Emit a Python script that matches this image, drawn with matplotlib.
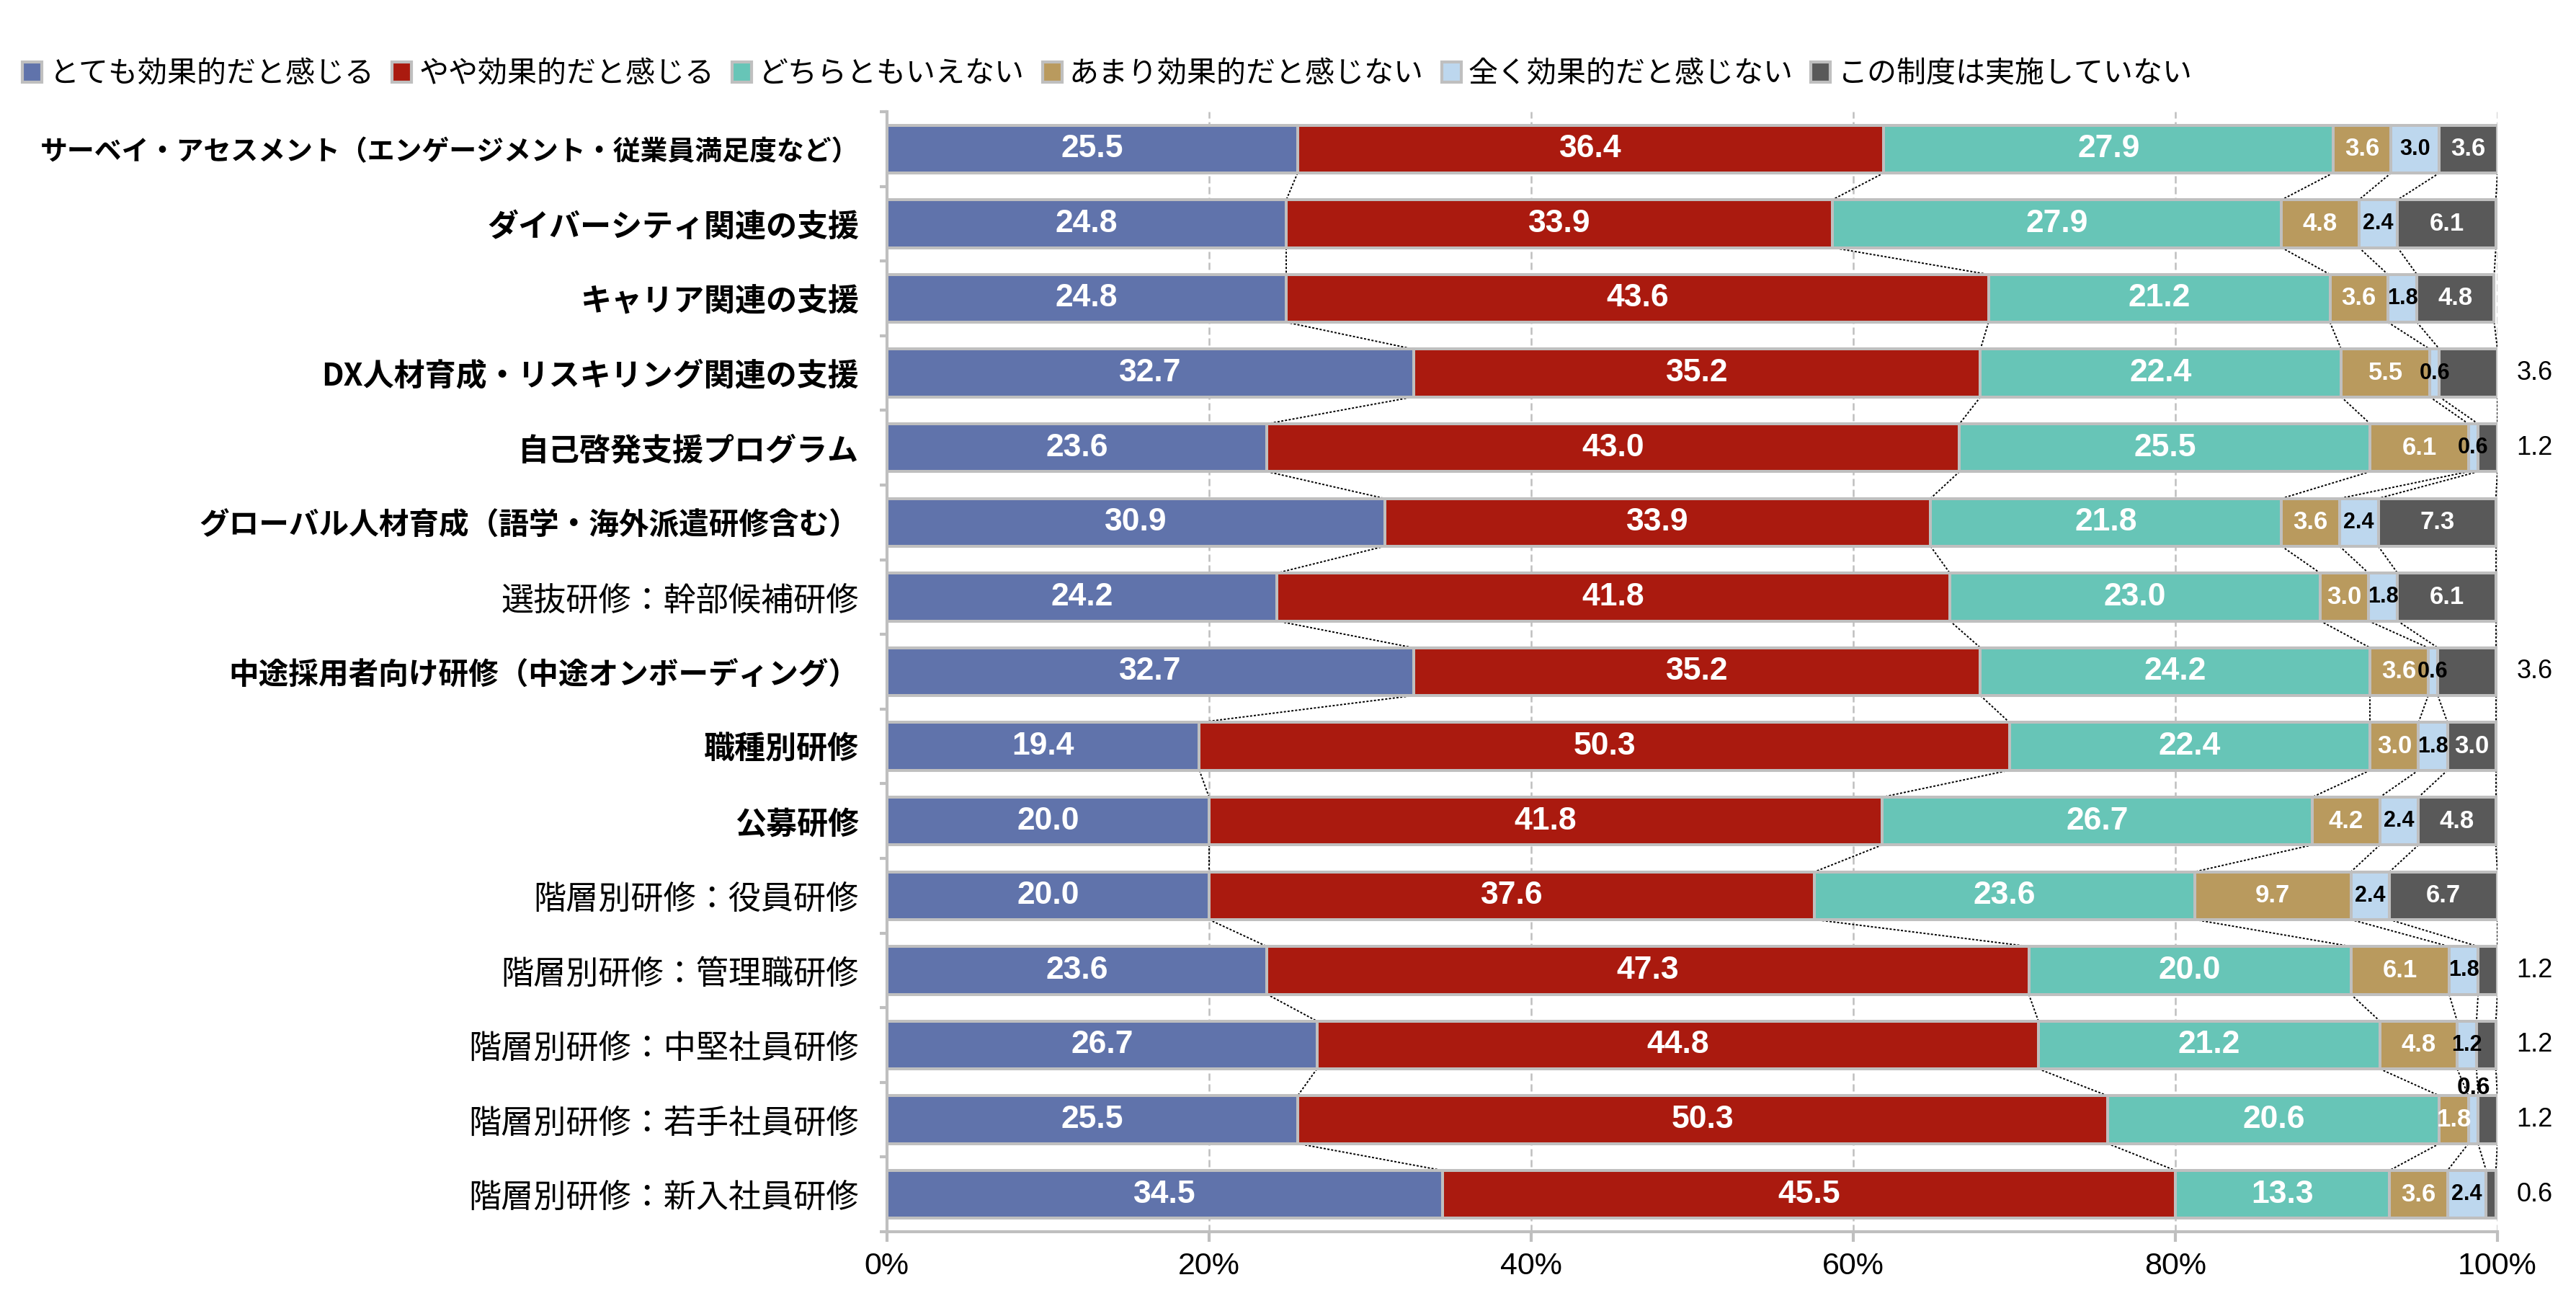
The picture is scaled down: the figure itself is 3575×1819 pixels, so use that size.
import matplotlib
matplotlib.use("Agg")
import matplotlib.pyplot as plt
from matplotlib.patches import Patch
import numpy as np

plt.rcParams['font.family'] = ['Noto Sans CJK JP', 'DejaVu Sans']

# data (percent)
categories = [
    "サーベイ・アセスメント（エンゲージメント・従業員満足度など）",
    "ダイバーシティ関連の支援",
    "キャリア関連の支援",
    "DX人材育成・リスキリング関連の支援",
    "自己啓発支援プログラム",
    "グローバル人材育成（語学・海外派遣研修含む）",
    "選抜研修：幹部候補研修",
    "中途採用者向け研修（中途オンボーディング）",
    "職種別研修",
    "公募研修",
    "階層別研修：役員研修",
    "階層別研修：管理職研修",
    "階層別研修：中堅社員研修",
    "階層別研修：若手社員研修",
    "階層別研修：新入社員研修",
]
bold_rows = [True] * 6 + [False] + [True] * 3 + [False] * 5

series_names = ["とても効果的だと感じる", "やや効果的だと感じる", "どちらともいえない",
                "あまり効果的だと感じない", "全く効果的だと感じない", "この制度は実施していない"]

very = [25.5, 24.8, 24.8, 32.7, 23.6, 30.9, 24.2, 32.7, 19.4, 20.0, 20.0, 23.6, 26.7, 25.5, 34.5]
somewhat = [36.4, 33.9, 43.6, 35.2, 43.0, 33.9, 41.8, 35.2, 50.3, 41.8, 37.6, 47.3, 44.8, 50.3, 45.5]
neither = [27.9, 27.9, 21.2, 22.4, 25.5, 21.8, 23.0, 24.2, 22.4, 26.7, 23.6, 20.0, 21.2, 20.6, 13.3]
not_much = [3.6, 4.8, 3.6, 5.5, 6.1, 3.6, 3.0, 3.6, 3.0, 4.2, 9.7, 6.1, 4.8, 1.8, 3.6]
not_at_all = [3.0, 2.4, 1.8, 0.6, 0.6, 2.4, 1.8, 0.6, 1.8, 2.4, 2.4, 1.8, 1.2, 0.6, 2.4]
not_offered = [3.6, 6.1, 4.8, 3.6, 1.2, 7.3, 6.1, 3.6, 3.0, 4.8, 6.7, 1.2, 1.2, 1.2, 0.6]

# rows where the last value is written outside the bar
outside_rows = [3, 4, 7, 11, 12, 13, 14]
# row where the light-blue value sits above the bar
above_rows = [13]

colors = ["#6073AB", "#AA1A0F", "#67C5B7", "#B99A5E", "#BDD7EE", "#595959"]
edge = "#BFBFBF"
num_font = "Liberation Sans"

data = [very, somewhat, neither, not_much, not_at_all, not_offered]

fig = plt.figure(figsize=(35.75, 18.19), dpi=100)
ax = fig.add_axes([0.3443, 0.0605, 0.6252, 0.8543])

n = len(categories)
y = np.arange(n)
h = 0.64

# grid
for gx in [20, 40, 60, 80, 100]:
    ax.axvline(gx, color=edge, lw=1.8, ls=(0, (4, 2)), zorder=0)

left = np.zeros(n)
bounds = []
for k, (vals, col) in enumerate(zip(data, colors)):
    vals = np.array(vals)
    ax.barh(y, vals, left=left, height=h, color=col, edgecolor=edge,
            linewidth=2.9, zorder=3)
    for i in range(n):
        cx = left[i] + vals[i] / 2
        txt = f"{vals[i]:.1f}"
        if k < 3:
            ax.text(cx, i, txt, ha='center', va='center', color='white',
                    fontsize=32, fontweight='bold', family=num_font, zorder=5)
        elif k == 3:
            ax.text(cx, i, txt, ha='center', va='center', color='white',
                    fontsize=25, fontweight='bold', family=num_font, zorder=5)
        elif k == 4:
            if i in above_rows:
                ax.text(cx, i - 0.43, txt, ha='center', va='center', color='black',
                        fontsize=24, fontweight='bold', family=num_font, zorder=5)
            else:
                ax.text(cx, i, txt, ha='center', va='center', color='black',
                        fontsize=22, fontweight='bold', family=num_font, zorder=5)
        else:
            if i in outside_rows:
                ax.text(102.3, i, txt, ha='center', va='center', color='black',
                        fontsize=26, family=num_font, clip_on=False, zorder=5)
            else:
                ax.text(cx, i, txt, ha='center', va='center', color='white',
                        fontsize=25, fontweight='bold', family=num_font, zorder=5)
    left = left + vals
    bounds.append(left.copy())

# series lines between bars
for b in bounds:
    for i in range(n - 1):
        ax.plot([b[i], b[i + 1]], [i + h / 2, i + 1 - h / 2], color='black',
                lw=1.4, ls=(0, (1.5, 1.2)), zorder=2)

ax.set_xlim(0, 100)
ax.set_ylim(n - 0.5, -0.5)
ax.set_xticks(range(0, 101, 20))
ax.set_xticklabels([f"{t}%" for t in range(0, 101, 20)], family=num_font, fontsize=31)
ax.tick_params(axis='x', length=10, width=3, color=edge, pad=10)

ax.set_yticks(y)
ax.set_yticklabels(categories)
size_fix = {0: 27.3, 5: 30, 7: 30}
for i, lab in enumerate(ax.get_yticklabels()):
    if bold_rows[i]:
        lab.set_fontweight('bold')
        lab.set_fontsize(size_fix.get(i, 31))
    else:
        lab.set_fontsize(32.5)
ax.tick_params(axis='y', which='major', length=0, pad=28)
ax.set_yticks(np.arange(-0.5, n, 1), minor=True)
ax.tick_params(axis='y', which='minor', length=7, width=3, color=edge)

for s in ['top', 'right']:
    ax.spines[s].set_visible(False)
for s in ['left', 'bottom']:
    ax.spines[s].set_color(edge)
    ax.spines[s].set_linewidth(3)

handles = [Patch(facecolor=c, edgecolor=edge, linewidth=3) for c in colors]
fig.legend(handles, series_names, loc='center left', bbox_to_anchor=(0.0087, 0.9434),
           ncol=6, frameon=False, prop={'family': ['Noto Sans CJK JP', 'DejaVu Sans'], 'size': 29.5},
           handlelength=0.66, handleheight=0.66, handletextpad=0.25, columnspacing=0.6,
           borderpad=0, borderaxespad=0)

fig.savefig("out.png", dpi=100)
